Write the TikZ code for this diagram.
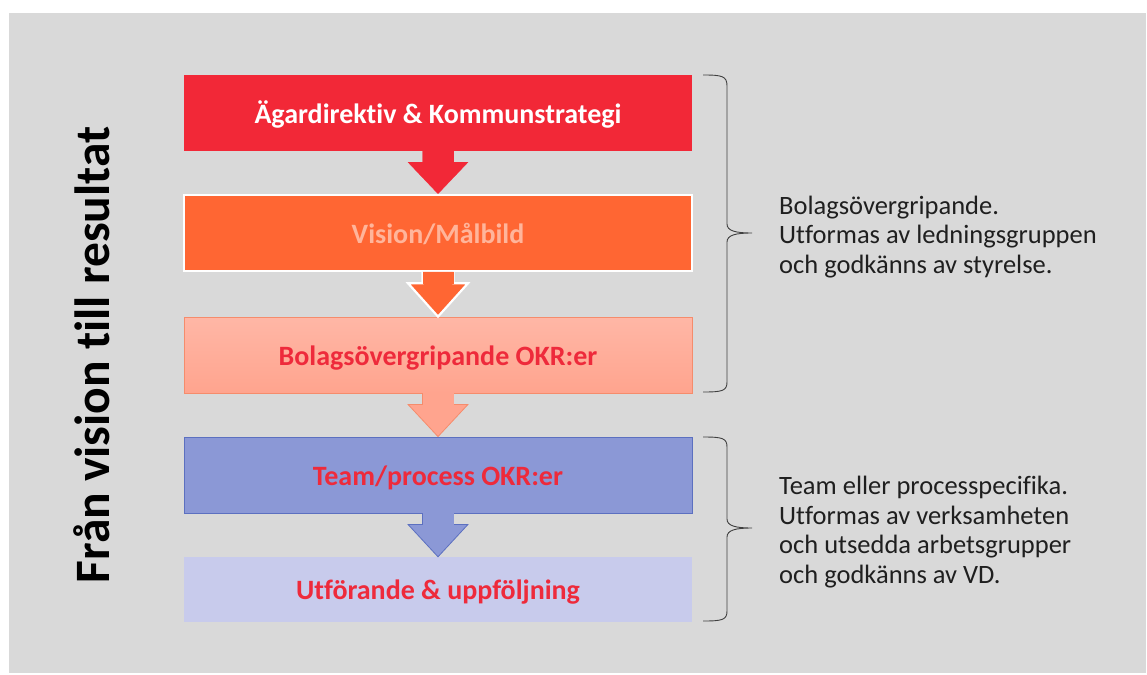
\documentclass[tikz,border=0pt]{standalone}
\usepackage{fontspec}
\setmainfont{Carlito}[Ligatures=NoCommon]
\usetikzlibrary{calc}
\definecolor{bg}{HTML}{D9D9D9}
\definecolor{cRed}{HTML}{F22837}
\definecolor{cOrange}{HTML}{FF6633}
\definecolor{cPeach}{HTML}{FFB59B}
\definecolor{cSalmonT}{HTML}{FFB7A6}
\definecolor{cSalmonB}{HTML}{FFA48E}
\definecolor{cSalmonLine}{HTML}{F58C6C}
\definecolor{cBlue}{HTML}{8B98D6}
\definecolor{cBlueLine}{HTML}{5C70C0}
\definecolor{cLav}{HTML}{C8CBEC}
\definecolor{cText}{HTML}{EE2A3B}
\definecolor{cBrace}{HTML}{404040}
\begin{document}
\begin{tikzpicture}[x=1pt,y=-1pt,
  boxbase/.style={minimum width=508pt,minimum height=76pt,inner sep=0pt,
    text height=20pt,text depth=0pt,
    font=\bfseries\fontsize{28}{32}\selectfont},
  sidetext/.style={anchor=west,align=left,inner sep=0pt,text=black!88,
    font=\fontsize{26.5}{29.6}\selectfont},
  bracestyle/.style={draw=cBrace,line width=0.9pt}]
\fill[white] (0,0) rectangle (1147,674);
\fill[bg] (9,13) rectangle (1146,673);
\useasboundingbox (0,0) rectangle (1147,674);

% boxes
\node[boxbase,fill=cRed,text=white] (b1) at (438,113) {Ägardirektiv \& Kommunstrategi};
\node[boxbase,fill=cOrange,draw=white,line width=2.5pt,text=cPeach] (b2) at (438,233) {Vision/Målbild};
\node[boxbase,top color=cSalmonT,bottom color=cSalmonB,draw=cSalmonLine,line width=0.8pt,text=cText] (b3) at (438,355) {Bolagsövergripande OKR:er};
\node[boxbase,fill=cBlue,draw=cBlueLine,line width=0.8pt,text=cText] (b4) at (438,475) {Team/process OKR:er};
\node[boxbase,fill=cLav,minimum height=65pt,text=cText] (b5) at (438,589.5) {Utförande \& uppföljning};

% block arrows: #1 from node, #2 to node, #3 fill, #4 stroke colour, #5 stroke width
\newcommand{\blockarrow}[5]{%
  \path[fill=#3,draw=#4,line width=#5,line join=miter] ($(#1.south)+(-15.5,-0.3)$) -- ($(#1.south)+(-15.5,11)$) -- ($(#1.south)+(-30,11)$)
    -- (#2.north) -- ($(#1.south)+(30,11)$) -- ($(#1.south)+(15.5,11)$) -- ($(#1.south)+(15.5,-0.3)$);
  \fill[#3] ($(#1.south)+(-15.5,-0.6)$) rectangle ($(#1.south)+(15.5,12)$);}
\blockarrow{b1}{b2}{cRed}{cRed}{0.3pt}
\blockarrow{b2}{b3}{cOrange}{white}{2.2pt}
\blockarrow{b3}{b4}{cSalmonB}{cSalmonLine}{0.8pt}
\blockarrow{b4}{b5}{cBlue}{cBlueLine}{0.8pt}

% braces
\draw[bracestyle] (703,75) .. controls (722,75) and (727,76) .. (727,86) -- (727,224)
  .. controls (727,231) and (736,233) .. (752,233) .. controls (736,233) and (727,235) .. (727,242)
  -- (727,382) .. controls (727,391) and (722,392) .. (703,392);
\draw[bracestyle] (703,437) .. controls (722,437) and (727,438) .. (727,447) -- (727,519)
  .. controls (727,526) and (736,528) .. (752,528) .. controls (736,528) and (727,530) .. (727,537)
  -- (727,611) .. controls (727,620) and (722,621) .. (703,621);

% side texts
\node[sidetext] (t1) at (779,237) {Bolagsövergripande.\\Utformas av ledningsgruppen\\och godkänns av styrelse.};
\node[sidetext] (t2) at (779,532) {Team eller processpecifika.\\Utformas av verksamheten\\och utsedda arbetsgrupper\\och godkänns av VD.};

% vertical title
\node[rotate=90,inner sep=0pt,font=\bfseries\fontsize{49.5}{56}\selectfont,text=black] (title) at (92,355) {Från vision till resultat};
\end{tikzpicture}
\end{document}
